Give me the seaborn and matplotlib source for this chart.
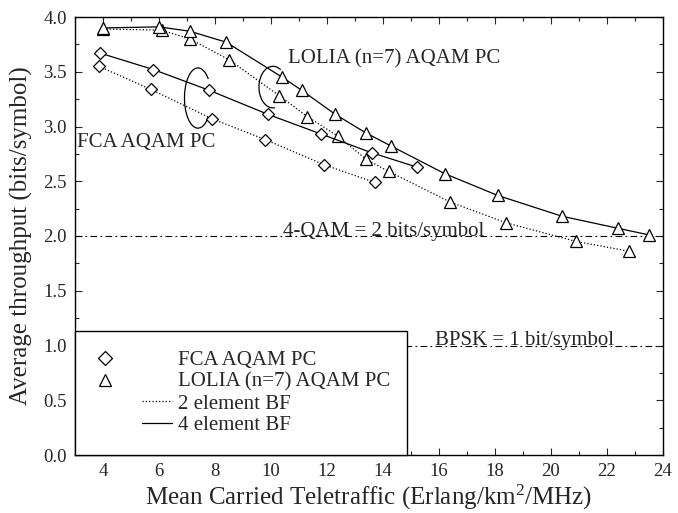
import numpy as np
import matplotlib
matplotlib.use("Agg")
import matplotlib.pyplot as plt
import seaborn as sns
from matplotlib.lines import Line2D
from matplotlib.patches import Arc
from matplotlib.legend_handler import HandlerLine2D
from matplotlib.ticker import MultipleLocator, FormatStrFormatter

# --- datos ---
lolia4_x = [4.0, 6.0, 7.1, 8.4, 10.4, 11.1, 12.3, 13.4, 14.3, 16.2, 18.1, 20.4, 22.4, 23.5]
lolia4_y = [3.90, 3.91, 3.87, 3.77, 3.45, 3.33, 3.11, 2.94, 2.82, 2.57, 2.37, 2.18, 2.07, 2.01]

lolia2_x = [4.0, 6.1, 7.1, 8.5, 10.3, 11.3, 12.4, 13.4, 14.2, 16.4, 18.4, 20.9, 22.8]
lolia2_y = [3.89, 3.88, 3.80, 3.61, 3.28, 3.09, 2.91, 2.70, 2.59, 2.31, 2.12, 1.95, 1.86]

fca4_x = [3.9, 5.8, 7.8, 9.9, 11.8, 13.6, 15.2]
fca4_y = [3.67, 3.52, 3.33, 3.11, 2.93, 2.76, 2.63]

fca2_x = [3.85, 5.7, 7.9, 9.8, 11.9, 13.7]
fca2_y = [3.55, 3.34, 3.07, 2.88, 2.65, 2.49]

qam4_level = 2.0
bpsk_level = 1.0

sns.set_style("ticks")
plt.rcParams["font.family"] = ["Liberation Serif", "DejaVu Serif"]
plt.rcParams["mathtext.fontset"] = "custom"
plt.rcParams["mathtext.rm"] = "Liberation Serif"
plt.rcParams["mathtext.it"] = "Liberation Serif:italic"

fig = plt.figure(figsize=(6.78, 5.13), dpi=100)
ax = fig.add_axes([75 / 678, 1 - 455 / 513, 588 / 678, 438 / 513])

mk = dict(markerfacecolor="white", markeredgecolor="black", markeredgewidth=0.9)

# curvas
sns.lineplot(x=lolia2_x, y=lolia2_y, ax=ax, color="black", linestyle=":", linewidth=0.9,
             marker="^", markersize=8, sort=False, estimator=None, **mk)
sns.lineplot(x=lolia4_x, y=lolia4_y, ax=ax, color="black", linestyle="-", linewidth=0.9,
             marker="^", markersize=8, sort=False, estimator=None, **mk)
sns.lineplot(x=fca2_x, y=fca2_y, ax=ax, color="black", linestyle=":", linewidth=0.9,
             marker="D", markersize=6.5, sort=False, estimator=None, **mk)
sns.lineplot(x=fca4_x, y=fca4_y, ax=ax, color="black", linestyle="-", linewidth=0.9,
             marker="D", markersize=6.5, sort=False, estimator=None, **mk)

# lineas de referencia
ax.axhline(qam4_level, color="black", linewidth=0.8, linestyle=(0, (6, 3, 1.5, 3)), zorder=1)
ax.axhline(bpsk_level, color="black", linewidth=0.8, linestyle=(0, (6, 3, 1.5, 3)), zorder=1)
ax.text(10.43, qam4_level, "4-QAM = 2 bits/symbol", fontsize=15, va="baseline", ha="left")
ax.text(15.86, bpsk_level, "BPSK = 1 bit/symbol", fontsize=15, va="baseline", ha="left")

# etiquetas de las curvas
ax.text(10.6, 3.58, "LOLIA (n=7) AQAM PC", fontsize=15, va="baseline", ha="left")
ax.text(3.07, 2.815, "FCA AQAM PC", fontsize=15, va="baseline", ha="left")

# elipses que agrupan las curvas
ax.add_patch(Arc((7.39, 3.26), 0.96, 0.55, theta1=25, theta2=335, color="black", linewidth=0.9))
ax.add_patch(Arc((10.07, 3.36), 1.0, 0.38, theta1=30, theta2=290, color="black", linewidth=0.9))

ax.set_xlim(3, 24)
ax.set_ylim(0, 4)
ax.xaxis.set_major_locator(MultipleLocator(2))
ax.xaxis.set_minor_locator(MultipleLocator(1))
ax.yaxis.set_major_locator(MultipleLocator(0.5))
ax.yaxis.set_minor_locator(MultipleLocator(0.25))
ax.yaxis.set_major_formatter(FormatStrFormatter("%.1f"))
ax.xaxis.set_major_formatter(FormatStrFormatter("%d"))
ax.tick_params(which="both", direction="in", top=True, right=True, labelsize=13.5, width=0.8)
ax.tick_params(which="major", length=5, pad=6)
ax.tick_params(which="minor", length=3)
for s in ax.spines.values():
    s.set_linewidth(1.0)
    s.set_color("black")

ax.set_xlabel("Mean Carried Teletraffic (Erlang/km$^{2}$/MHz)", fontsize=18, labelpad=2)
ax.set_ylabel("Average throughput (bits/symbol)", fontsize=18, labelpad=7)


# leyenda: marcadores a la izquierda, lineas a la derecha del hueco
class PartialLine(HandlerLine2D):
    def __init__(self, lo, hi, **kw):
        super().__init__(**kw)
        self.lo, self.hi = lo, hi

    def create_artists(self, legend, orig_handle, xdescent, ydescent, width, height, fontsize, trans):
        arts = super().create_artists(legend, orig_handle, xdescent, ydescent, width, height, fontsize, trans)
        for a in arts:
            x = np.asarray(a.get_xdata(), dtype=float)
            x0, x1 = x[0], x[-1]
            a.set_xdata(np.linspace(x0 + self.lo * (x1 - x0), x0 + self.hi * (x1 - x0), len(x)))
        return arts


h_fca = Line2D([], [], linestyle="none", marker="D", markersize=7.5, **mk)
h_lol = Line2D([], [], linestyle="none", marker="^", markersize=9, **mk)
h_2 = Line2D([], [], color="black", linestyle=":", linewidth=0.9)
h_4 = Line2D([], [], color="black", linestyle="-", linewidth=0.9)

leg = ax.legend([h_fca, h_lol, h_2, h_4],
                ["FCA AQAM PC", "LOLIA (n=7) AQAM PC", "2 element BF", "4 element BF"],
                handler_map={h_fca: PartialLine(0.13, 0.13, numpoints=1),
                             h_lol: PartialLine(0.13, 0.13, numpoints=1),
                             h_2: PartialLine(0.61, 1.0),
                             h_4: PartialLine(0.61, 1.0)},
                loc="lower left", bbox_to_anchor=(0, 0, 332 / 588, 0.3), mode="expand",
                borderaxespad=0, fontsize=15, handlelength=3.7, handletextpad=0.3,
                labelspacing=0.1, borderpad=0.95, fancybox=False, framealpha=1,
                edgecolor="black")
leg.get_frame().set_linewidth(1.0)
leg.set_zorder(5)

fig.savefig("out.png", dpi=100)
